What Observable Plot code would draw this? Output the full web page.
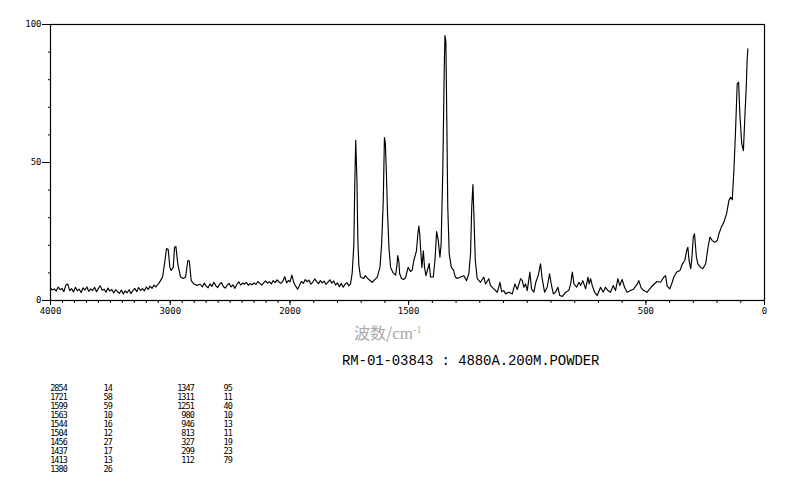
<!DOCTYPE html>
<html>
<head>
<meta charset="utf-8">
<script src="https://cdn.jsdelivr.net/npm/d3@7"></script>
<script src="https://cdn.jsdelivr.net/npm/@observablehq/plot@0.6"></script>
<style>
  html, body { margin: 0; padding: 0; background: #fff; }
  #wrap { position: relative; width: 794px; height: 482px; overflow: hidden; background: #fff; }
  #chart { position: absolute; left: 0; top: 0; }
  .xlabel { position: absolute; left: 354px; top: 320px; font-family: "Noto Sans CJK SC", serif; font-size: 16px; color: #a8a8a8; white-space: nowrap; }
  .xlabel .cm { font-family: "Liberation Serif", "DejaVu Serif", serif; font-size: 17px; }
  .xlabel sup { font-size: 10px; font-family: "Liberation Serif", serif; }
  .title { position: absolute; left: 342px; top: 353px; font-family: "Liberation Mono", "DejaVu Sans Mono", monospace; font-size: 14px; color: #000; white-space: nowrap; letter-spacing: -0.1px; }
  .tbl { position: absolute; font-family: "DejaVu Sans Mono", monospace; font-size: 8.5px; letter-spacing: -0.9px; color: #000; text-align: right; line-height: 9px; white-space: pre; }
</style>
</head>
<body>
<div id="wrap">
  <div id="chart"></div>
  <div class="xlabel">波数/<span class="cm">cm</span><sup>-1</sup></div>
  <div class="title">RM-01-03843 : 4880A.200M.POWDER</div>
</div>
<script>
// ---- spectrum data: [wavenumber cm-1, relative intensity %] ----
const highRegion = [
  [4000,4.6],[3984,3.8],[3968,4.2],[3952,3.4],[3936,4.9],[3920,3.9],[3904,4.4],[3888,3.2],
  [3872,5.6],[3856,6.0],[3840,3.6],[3824,4.3],[3808,3.1],[3792,4.8],[3776,3.5],[3760,4.1],
  [3744,2.9],[3728,4.6],[3712,3.8],[3696,4.9],[3680,3.3],[3664,4.2],[3648,3.6],[3632,4.8],
  [3616,3.2],[3600,4.4],[3584,5.3],[3568,3.7],[3552,4.1],[3536,3.0],[3520,4.5],[3504,3.4],
  [3488,4.0],[3472,2.7],[3456,3.9],[3440,3.1],[3424,2.6],[3408,3.8],[3392,2.4],[3376,3.5],
  [3360,2.8],[3344,3.9],[3328,2.5],[3312,3.6],[3296,4.4],[3280,3.2],[3264,4.7],[3248,3.6],
  [3232,4.3],[3216,3.5],[3200,4.9],[3184,4.0],[3168,5.2],[3152,4.4],[3136,5.6],[3120,4.9],
  [3104,5.8],[3096,6.2],
  [3081,7.2],[3064,8.5],[3048,13.3],[3031,18.8],[3017,18.5],[3003,12.0],[2992,10.9],[2975,12.0],
  [2964,19.3],[2953,19.6],[2937,13.3],[2914,8.5],[2891,8.0],[2872,8.5],[2853,14.5],[2841,14.3],
  [2825,7.2],[2803,6.0],[2775,5.4],[2760,5.8],
  [2748,5.8],[2732,4.9],[2716,6.3],[2700,5.2],[2684,4.6],[2668,6.0],[2652,5.1],[2636,6.6],
  [2620,5.4],[2604,4.7],[2588,5.9],[2572,6.5],[2556,5.0],[2540,4.5],[2524,5.6],[2508,6.2],
  [2492,4.9],[2476,5.7],[2460,4.4],[2444,5.8],[2428,6.8],[2412,5.6],[2396,6.3],[2380,5.9],
  [2364,6.6],[2348,5.5],[2332,6.1],[2316,5.7],[2300,6.4],[2284,5.8],[2268,6.9],[2252,6.2],
  [2236,5.6],[2220,6.4],[2204,7.1],[2188,6.3],[2172,6.8],[2156,6.0],[2140,7.2],[2124,6.5],
  [2108,7.5],[2092,6.7],[2076,6.2],[2060,7.0],[2044,8.6],[2028,6.4],[2012,7.3],[2000,6.8]
];
const midRegion = [
  [1992,9.2],[1984,6.5],[1976,5.2],[1968,4.1],[1960,5.4],[1952,6.9],[1944,6.2],[1936,7.6],
  [1928,6.8],[1920,7.4],[1912,5.9],[1904,6.6],[1896,7.8],[1888,6.9],[1880,6.1],[1872,7.2],
  [1864,6.4],[1856,7.0],[1848,5.8],[1840,6.7],[1832,7.5],[1824,6.3],[1816,7.1],[1808,5.6],
  [1800,6.4],[1792,5.0],[1784,6.2],[1776,4.8],[1768,5.9],[1760,6.5],[1752,5.3],[1745,6.0],
  [1738,9.8],[1731,20],[1727,42],[1723,58],[1718,44],[1714,22],[1710,13],[1703,8.5],
  [1689,8.0],[1682,9.0],[1675,8.2],[1668,7.6],[1653,6.6],[1647,7.2],[1632,8.5],[1621,12],
  [1614,20],[1607,36],[1602,59],[1598,57],[1593,44],[1589,32],[1583,19.3],[1576,12],
  [1565,10],[1555,9.2],[1549,13],[1546,16.3],[1541,14],[1538,9.8],[1530,8.0],[1521,7.6],
  [1513,8.3],[1502,12],[1492,10.5],[1485,11],[1478,14.5],[1467,18],[1461,24],[1457,27],
  [1453,24],[1450,19.3],[1444,12],[1438,18],[1433,12],[1427,9.0],[1419,11.5],[1413,13.4],
  [1408,8.5],[1396,8.5],[1389,14.5],[1382,25],[1375,21.7],[1368,15.7],[1363,20.5],[1356,47],
  [1350,83],[1347,96],[1343,94],[1339,65],[1335,34],[1329,17],[1320,12],[1311,11],
  [1303,8.5],[1295,8.0],[1281,8.5],[1267,9.0],[1256,7.2],[1246,9.8],[1239,17],[1234,33.8],
  [1229,42],[1225,31.4],[1219,14.5],[1211,7.9],[1197,6.6]
];
const lowRegion = [
  [1183,8.5],[1176,6.0],[1162,7.9],[1155,5.4],[1141,4.2],[1126,3.0],[1115,6.6],[1108,3.2],
  [1099,3.6],[1091,2.4],[1078,3.0],[1063,2.4],[1052,6.0],[1042,4.0],[1028,7.9],[1021,7.2],
  [1014,4.8],[1007,6.0],[1000,3.6],[989,10.3],[982,4.2],[972,3.0],[964,6.6],[954,9.0],
  [944,13.3],[937,7.9],[927,3.0],[916,4.8],[906,9.7],[899,6.0],[890,2.4],[881,3.0],
  [871,4.8],[863,1.8],[852,1.5],[838,3.0],[825,3.6],[817,6.0],[810,10.3],[803,6.0],
  [792,4.8],[782,6.6],[775,5.4],[766,7.2],[754,4.2],[744,8.5],[739,6.0],[733,7.9],
  [726,5.4],[716,3.0],[705,1.8],[691,4.8],[680,3.0],[670,4.8],[660,3.6],[649,3.0],
  [638,5.4],[628,3.6],[618,7.9],[610,5.4],[600,7.6],[590,4.8],[579,3.0],[565,3.6],
  [551,4.2],[536,6.0],[530,7.2],[520,4.6],[509,3.6],[494,3.0],[488,3.8],[478,4.8],
  [467,5.8],[453,6.9],[438,6.6],[424,8.5],[417,9.0],[410,5.2],[399,4.2],[389,6.6],
  [382,8.5],[370,10.3],[356,10.9],[346,13.3],[336,14.5],[328,18.1],[323,19.3],[318,14.5],
  [311,11.5],[307,14.5],[300,23],[295,24.2],[287,15.7],[281,13.3],[269,12],[260,11.5],
  [248,13.3],[238,19.3],[230,23],[220,21.7],[210,21.1],[199,21.7],[192,24.2],[182,26.6],
  [171,28.4],[160,31.4],[150,36.2],[143,37.4],[136,36.5],[129,47.1],[122,61.6],[115,78.5],
  [109,79.1],[104,67.6],[96,56.8],[89,54.3],[84,64],[77,77.3],[73,87.6],[70,91.2]
];
const spectrum = [...highRegion, ...midRegion, ...lowRegion];

// ---- axes ----
const xMajorTicks = [4000, 3000, 2000, 1500, 500, 0];
const xMinorTicks = d3.range(0, 4001, 100);
const yMajorTicks = [0, 50, 100];
const yMinorTicks = d3.range(0, 101, 10);

// ---- peak table ----
const peakWaveLeft = ["2854","1721","1599","1563","1544","1504","1456","1437","1413","1380"];
const peakIntLeft  = ["14","58","59","10","16","12","27","17","13","26"];
const peakWaveRight = ["1347","1311","1251","980","946","813","327","299","112"];
const peakIntRight  = ["95","11","40","10","13","11","19","23","79"];

const plot = Plot.plot({
  width: 794,
  height: 320,
  marginLeft: 50,
  marginRight: 30,
  marginTop: 24,
  marginBottom: 20,
  style: { fontFamily: "DejaVu Sans Mono, monospace", fontSize: "9px", background: "white", color: "black" },
  x: { type: "linear", domain: [4000, 2000, 0], range: [50, 289.5, 764] },
  y: { domain: [0, 100], range: [300, 24] },
  marks: [
    Plot.axisX({ ticks: xMinorTicks, tickSize: 3, tickFormat: () => "", label: null, stroke: "black" }),
    Plot.axisX({ ticks: xMajorTicks, tickSize: 5, tickPadding: 2, tickFormat: d => String(d), label: null, stroke: "black", fill: "black" }),
    Plot.axisY({ ticks: yMinorTicks, tickSize: 2, tickFormat: () => "", label: null, stroke: "black" }),
    Plot.axisY({ ticks: yMajorTicks, tickSize: 8, tickPadding: 1, tickFormat: d => String(d), label: null, stroke: "black", fill: "black" }),
    Plot.frame({ stroke: "black", strokeWidth: 1.2 }),
    Plot.line(spectrum, { x: d => d[0], y: d => d[1], stroke: "black", strokeWidth: 1.15, curve: "linear" })
  ]
});
document.getElementById("chart").appendChild(plot);

// table columns
const wrap = document.getElementById("wrap");
function col(values, right) {
  const div = document.createElement("div");
  div.className = "tbl";
  div.style.left = (right - 60) + "px";
  div.style.width = "60px";
  div.style.top = "384px";
  div.textContent = values.join("\n");
  wrap.appendChild(div);
}
col(peakWaveLeft, 67);
col(peakIntLeft, 112);
col(peakWaveRight, 194);
col(peakIntRight, 232);
</script>
</body>
</html>
